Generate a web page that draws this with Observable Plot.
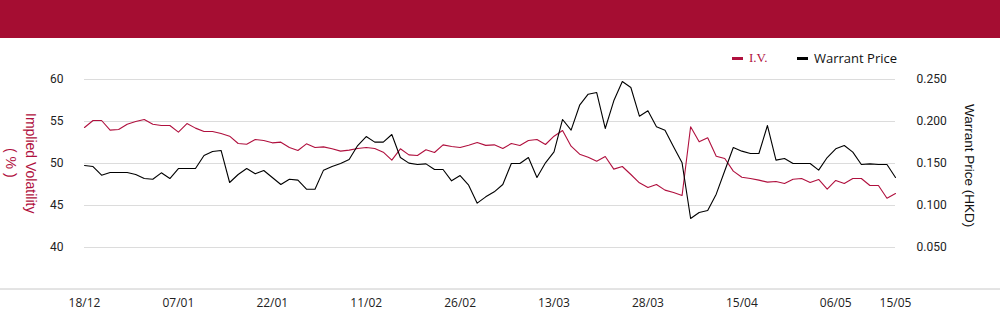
<!DOCTYPE html>
<html>
<head>
<meta charset="utf-8">
<script src="https://cdn.jsdelivr.net/npm/d3@7"></script>
<script src="https://cdn.jsdelivr.net/npm/@observablehq/plot@0.6"></script>
<style>
  html, body { margin: 0; padding: 0; background: #fff; }
  #page { position: relative; width: 1000px; height: 324px; overflow: hidden; font-family: "Open Sans", sans-serif; }
  #header { position: absolute; left: 0; top: 0; width: 1000px; height: 38px; background: #A50D32; }
  #chart { position: absolute; left: 0; top: 38px; width: 1000px; height: 286px; }
  #chart svg { position: absolute; left: 0; top: 0; }
  .leg { position: absolute; font-size: 13px; line-height: 16px; white-space: nowrap; }
  .sw { position: absolute; width: 11px; height: 3px; }
  .vt { position: absolute; writing-mode: vertical-rl; text-align: center; white-space: nowrap; font-family: "Liberation Sans", Arial, sans-serif; }
</style>
</head>
<body>
<div id="page">
  <div id="header"></div>
  <div id="chart"></div>
  <div class="sw" style="left:732px;top:57px;background:#B0103E"></div>
  <div class="leg" style="left:749px;top:50px;color:#B0103E;font-family:'Liberation Serif',serif;">I.V.</div>
  <div class="sw" style="left:797px;top:57px;background:#000"></div>
  <div class="leg" style="left:814px;top:50px;color:#111;">Warrant Price</div>
  <div class="vt" id="ltitle" style="left:1px;top:111px;height:104px;width:40px;font-size:14px;line-height:20px;color:#B0103E;">Implied Volatility<br>( % )</div>
  <div class="vt" id="rtitle" style="left:959px;top:103px;height:126px;width:20px;font-size:13.5px;line-height:20px;color:#111;">Warrant Price (HKD)</div>
</div>
<script>
const tickIndex = [0, 11, 22, 33, 44, 55, 66, 77, 88, 95];
const tickLabels = ["18/12", "07/01", "22/01", "11/02", "26/02", "13/03", "28/03", "15/04", "06/05", "15/05"];
const ivTicks = [40, 45, 50, 55, 60];
const priceTicks = [0.05, 0.10, 0.15, 0.20, 0.25];

const iv = [
  54.29, 55.12, 55.12, 53.97, 54.05, 54.68, 55.00, 55.24, 54.68, 54.52,
  54.52, 53.73, 54.76, 54.21, 53.81, 53.81, 53.57, 53.25, 52.38, 52.30,
  52.86, 52.74, 52.46, 52.54, 51.90, 51.55, 52.34, 51.90, 51.98, 51.75,
  51.47, 51.59, 51.79, 51.90, 51.79, 51.35, 50.40, 51.75, 51.03, 50.95,
  51.63, 51.31, 52.22, 52.02, 51.90, 52.18, 52.50, 52.16, 52.22, 51.79,
  52.38, 52.14, 52.74, 52.86, 52.26, 53.25, 53.93, 52.06, 51.11, 50.75,
  50.28, 50.83, 49.33, 49.64, 48.69, 47.70, 47.14, 47.50, 46.83, 46.55,
  46.19, 54.37, 52.58, 53.06, 50.87, 50.60, 49.09, 48.37, 48.21, 48.02,
  47.78, 47.86, 47.62, 48.13, 48.21, 47.74, 48.10, 46.94, 47.98, 47.62,
  48.21, 48.21, 47.38, 47.38, 45.87, 46.43
];

const price = [
  0.1476, 0.1464, 0.1361, 0.1393, 0.1393, 0.1393, 0.1369, 0.1321, 0.1313, 0.1389,
  0.1321, 0.1440, 0.1440, 0.1440, 0.1595, 0.1643, 0.1655, 0.1274, 0.1369, 0.1440,
  0.1377, 0.1417, 0.1333, 0.1250, 0.1313, 0.1302, 0.1194, 0.1194, 0.1421, 0.1464,
  0.1500, 0.1548, 0.1714, 0.1821, 0.1754, 0.1754, 0.1845, 0.1571, 0.1504, 0.1488,
  0.1496, 0.1429, 0.1429, 0.1294, 0.1357, 0.1242, 0.1028, 0.1103, 0.1163, 0.1250,
  0.1500, 0.1500, 0.1571, 0.1333, 0.1508, 0.1639, 0.2024, 0.1897, 0.2194, 0.2325,
  0.2345, 0.1917, 0.2246, 0.2476, 0.2405, 0.2063, 0.2127, 0.1937, 0.1897, 0.1698,
  0.1508, 0.0845, 0.0917, 0.0940, 0.1135, 0.1413, 0.1690, 0.1647, 0.1619, 0.1619,
  0.1952, 0.1540, 0.1560, 0.1500, 0.1500, 0.1500, 0.1421, 0.1571, 0.1675, 0.1714,
  0.1635, 0.1488, 0.1496, 0.1488, 0.1488, 0.1333
];

const RED = "#B0103E";
const common = {
  width: 1000, height: 286,
  marginLeft: 84, marginRight: 105, marginTop: 41, marginBottom: 35,
  style: { background: "transparent", fontFamily: "Roboto, sans-serif", fontSize: "12px", color: "#333", overflow: "visible" }
};
const xDomain = [0, tickIndex[tickIndex.length - 1]];

const p1 = Plot.plot({
  ...common,
  x: { domain: xDomain, axis: null },
  y: { domain: [35, 60], axis: null },
  marks: [
    Plot.gridY(ivTicks, { stroke: "#dcdcdc", strokeOpacity: 1 }),
    Plot.axisY(ivTicks, { anchor: "left", tickSize: 0, tickPadding: 21, label: null, fill: "#222", fontSize: 12 }),
    Plot.axisX(tickIndex, { anchor: "bottom", tickSize: 0, tickPadding: 9, label: null, fill: "#222", fontSize: 12, fontFamily: "Open Sans, sans-serif",
      tickFormat: d => tickLabels[tickIndex.indexOf(d)] }),
    Plot.lineY(iv, { x: (d, i) => i, y: d => d, stroke: RED, strokeWidth: 1.1 })
  ]
});

const yS = p1.scale("y");
const base = yS.apply(35);
d3.select(p1).append("line")
  .attr("x1", 0).attr("x2", 1000).attr("y1", base).attr("y2", base)
  .attr("stroke", "#c8c8c8").attr("stroke-width", 1);

const p2 = Plot.plot({
  ...common,
  x: { domain: xDomain, axis: null },
  y: { domain: [0, 0.25], axis: null },
  marks: [
    Plot.axisY(priceTicks, { anchor: "right", tickSize: 0, tickPadding: 21, label: null, fill: "#222", fontSize: 12, tickFormat: d3.format(".3f") }),
    Plot.lineY(price, { x: (d, i) => i, y: d => d, stroke: "#000", strokeWidth: 1.1 })
  ]
});

document.getElementById("chart").append(p1, p2);
</script>
</body>
</html>
